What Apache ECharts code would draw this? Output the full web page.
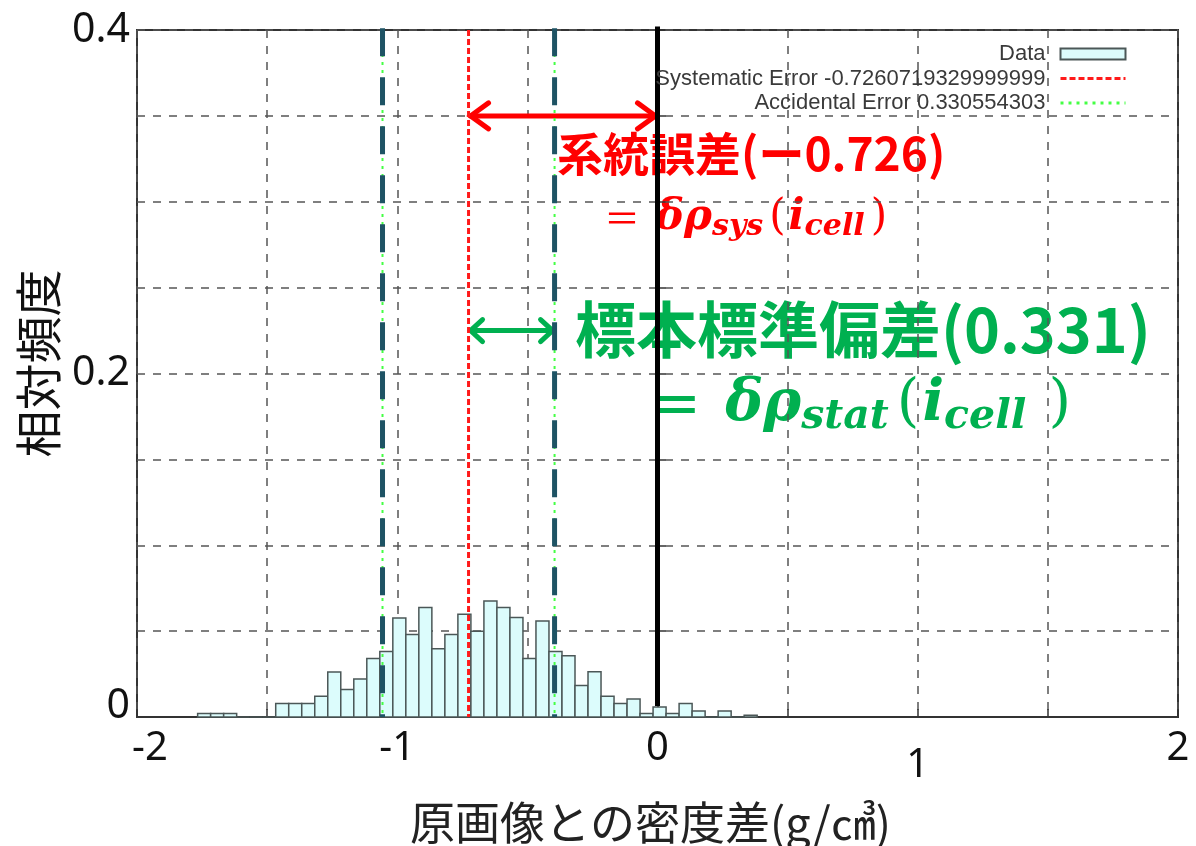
<!DOCTYPE html>
<html>
<head>
<meta charset="utf-8">
<script src="https://cdn.jsdelivr.net/npm/echarts@6/dist/echarts.min.js"></script>
<style>
  html, body { margin: 0; padding: 0; background: #fff; }
  #chart { width: 1196px; height: 846px; }
</style>
</head>
<body>
<div id="chart"></div>
<script>
// histogram: left edge of first bin and bin width
const binStart = -1.767;
const binWidth = 0.05;
// relative frequency per bin
const relFreq = [
  0.002, 0.002, 0.002, 0, 0, 0,
  0.0078, 0.0078, 0.0078, 0.0121, 0.0262, 0.016, 0.0221, 0.034, 0.0382, 0.0576,
  0.048, 0.0637, 0.0398, 0.048, 0.0598, 0.050, 0.0675, 0.0637, 0.0579, 0.034,
  0.0559, 0.0382, 0.0357, 0.0183, 0.0264, 0.0121, 0.0078, 0.0105, 0.002, 0.0058,
  0.002, 0.0078, 0.0035, 0, 0.0035, 0, 0.001
];

const sysError = -0.7260719329999999;
const accError = 0.330554303;
const legendNames = ['Data', 'Systematic Error -0.7260719329999999', 'Accidental Error 0.330554303'];

const xTicks = [-2, -1, 0, 1, 2];
const yTicks = [0, 0.2, 0.4];
const yTop = 0.4;
const zeroLineBottom = 0.0064;
// arrows: [from x, to x, at y]
const sysArrow = [sysError, 0, 0.35];
const statArrow = [sysError, sysError + accError, 0.225];

const chart = echarts.init(document.getElementById('chart'));

const histData = relFreq.map((v, i) => [binStart + i * binWidth, binStart + (i + 1) * binWidth, v]);

const vline = (x, y0, y1) => [[x, y1], [x, y0]];

function arrowItem(color, width, arm, spread) {
  return function (params, api) {
    const a = api.coord([api.value(0), api.value(2)]);
    const b = api.coord([api.value(1), api.value(2)]);
    const st = { stroke: color, lineWidth: width, lineCap: 'round', lineJoin: 'miter', fill: null };
    return {
      type: 'group',
      children: [
        { type: 'line', shape: { x1: a[0] + 2, y1: a[1], x2: b[0] - 2, y2: b[1] }, style: st },
        { type: 'polyline', shape: { points: [[a[0] + arm, a[1] - spread], [a[0] + 2, a[1]], [a[0] + arm, a[1] + spread]] }, style: st },
        { type: 'polyline', shape: { points: [[b[0] - arm, b[1] - spread], [b[0] - 2, b[1]], [b[0] - arm, b[1] + spread]] }, style: st }
      ]
    };
  };
}

const labelFont = '"Noto Sans", "Open Sans", sans-serif';
const cjk = '"Noto Sans CJK JP", sans-serif';
const serif = '"DejaVu Serif", serif';

const option = {
  animation: false,
  backgroundColor: '#fff',
  grid: {
    left: 137, right: 18, top: 30, bottom: 129,
    outerBoundsMode: 'none',
    show: true, borderColor: '#333', borderWidth: 2, backgroundColor: 'transparent'
  },
  legend: {
    data: [
      { name: legendNames[0], icon: 'rect' },
      { name: legendNames[1], itemStyle: { opacity: 0 }, lineStyle: { width: 3 } },
      { name: legendNames[2], itemStyle: { opacity: 0 }, lineStyle: { width: 3 } }
    ],
    orient: 'vertical',
    right: 64, top: 38,
    align: 'right',
    itemWidth: 65, itemHeight: 11, itemGap: 2.5,
    selectedMode: false,
    textStyle: { fontSize: 22, lineHeight: 21, color: '#3a3a3a', fontFamily: '"Liberation Sans", Arial, sans-serif', padding: [0, 10, 0, 0] }
  },
  xAxis: {
    type: 'value', min: -2, max: 2, interval: 0.5,
    name: '原画像との密度差(g/㎤)',
    nameLocation: 'middle', nameGap: 83,
    nameTextStyle: { fontSize: 45, color: '#222', fontFamily: cjk, padding: [0, 14, 0, 0] },
    axisLine: { show: true, onZero: false, lineStyle: { color: '#333', width: 2 } },
    axisTick: { show: true, inside: true, length: 8, lineStyle: { color: '#333', width: 1.5 } },
    axisLabel: {
      margin: 12, fontSize: 40, color: '#111', fontFamily: labelFont,
      formatter: v => {
        if (!xTicks.some(t => Math.abs(t - v) < 1e-9)) return '';
        if (Math.abs(v + 2) < 1e-9) return '{shift|-2}';
        if (Math.abs(v - 1) < 1e-9) return '{low|1}';
        return String(Math.round(v));
      },
      rich: {
        shift: { fontSize: 40, color: '#111', fontFamily: labelFont, padding: [0, 0, 0, 26] },
        low: { fontSize: 40, color: '#111', fontFamily: labelFont, padding: [17, 0, 0, 0] }
      }
    },
    splitLine: { show: true, lineStyle: { type: [8, 8], color: '#555', width: 1.5 } }
  },
  yAxis: {
    type: 'value', min: 0, max: yTop, interval: 0.05,
    name: '相対頻度',
    nameLocation: 'middle', nameRotate: 90, nameGap: 67,
    nameTextStyle: { fontSize: 47, color: '#111', fontFamily: cjk, padding: [0, 0, 0, 20] },
    axisLine: { show: true, lineStyle: { color: '#333', width: 2 } },
    axisTick: { show: true, inside: true, length: 8, lineStyle: { color: '#333', width: 1.5 } },
    axisLabel: {
      margin: 7, fontSize: 41, color: '#111', fontFamily: labelFont,
      formatter: v => {
        if (!yTicks.some(t => Math.abs(t - v) < 1e-9)) return '';
        if (Math.abs(v) < 1e-9) return '{up|0}';
        return (Math.round(v * 10) / 10).toString();
      },
      rich: {
        up: { fontSize: 41, color: '#111', fontFamily: labelFont, padding: [0, 0, 22, 0] }
      }
    },
    splitLine: { show: true, lineStyle: { type: [8, 8], color: '#555', width: 1.5 } }
  },
  series: [
    {
      name: legendNames[0],
      type: 'custom',
      silent: true,
      itemStyle: { color: '#dcfcfc', borderColor: '#4b5757', borderWidth: 1.5 },
      encode: { x: [0, 1], y: 2 },
      data: histData,
      renderItem: function (params, api) {
        const p0 = api.coord([api.value(0), api.value(2)]);
        const p1 = api.coord([api.value(1), 0]);
        return {
          type: 'rect',
          shape: { x: p0[0], y: p0[1], width: p1[0] - p0[0], height: p1[1] - p0[1] },
          style: { fill: '#dcfcfc', stroke: '#4b5757', lineWidth: 1.5 }
        };
      }
    },
    {
      name: legendNames[1], type: 'line', symbol: 'none', silent: true,
      itemStyle: { color: '#ff1a1a' },
      lineStyle: { color: '#ff1a1a', width: 3, type: [6, 3] },
      data: vline(sysError, 0, yTop)
    },
    {
      name: legendNames[2], type: 'line', symbol: 'none', silent: true,
      itemStyle: { color: '#44ff44' },
      lineStyle: { color: '#44ff44', width: 2, type: [3, 5] },
      data: vline(sysError - accError, 0, yTop)
    },
    {
      name: legendNames[2], type: 'line', symbol: 'none', silent: true,
      itemStyle: { color: '#44ff44' },
      lineStyle: { color: '#44ff44', width: 2, type: [3, 5] },
      data: vline(sysError + accError, 0, yTop)
    },
    {
      name: 'lo', type: 'line', symbol: 'none', silent: true, clip: false,
      lineStyle: { color: '#1e5364', width: 5, type: [28, 21] },
      data: vline(sysError - accError, 0, yTop + 0.001)
    },
    {
      name: 'hi', type: 'line', symbol: 'none', silent: true, clip: false,
      lineStyle: { color: '#1e5364', width: 5, type: [28, 21] },
      data: vline(sysError + accError, 0, yTop + 0.001)
    },
    {
      name: 'zero', type: 'line', symbol: 'none', silent: true, clip: false,
      lineStyle: { color: '#000', width: 5 },
      data: vline(0, zeroLineBottom, yTop + 0.002)
    },
    {
      name: 'sysArrow', type: 'custom', silent: true, clip: false,
      encode: { x: [0, 1], y: 2 },
      data: [sysArrow],
      renderItem: arrowItem('#ff0000', 5, 20, 13)
    },
    {
      name: 'statArrow', type: 'custom', silent: true, clip: false,
      encode: { x: [0, 1], y: 2 },
      data: [statArrow],
      renderItem: arrowItem('#00b050', 5, 14, 11)
    }
  ],
  graphic: [
    {
      type: 'text', left: 557, top: 131, silent: true,
      style: { text: '系統誤差(ー0.726)', font: 'bold 46px "Noto Sans CJK JP", sans-serif', fill: '#ff0000' }
    },
    {
      type: 'text', left: 604, top: 197, silent: true,
      style: {
        text: '{eq|＝ }{m|δρ}{s|sys}{p|(}{m|i}{s|cell}{p|)}',
        rich: {
          eq: { fontFamily: cjk, fontSize: 36, fill: '#ff0000', padding: [0, 8, 0, 0] },
          m: { fontFamily: serif, fontStyle: 'italic', fontWeight: 'bold', fontSize: 42, fill: '#ff0000' },
          p: { fontFamily: serif, fontSize: 42, fill: '#ff0000', padding: [0, 3, 0, 5] },
          s: { fontFamily: serif, fontStyle: 'italic', fontWeight: 'bold', fontSize: 30, fill: '#ff0000', verticalAlign: 'bottom', padding: [18, 1, 0, 0] }
        }
      }
    },
    {
      type: 'text', left: 575, top: 299, silent: true,
      style: { text: '標本標準偏差(0.331)', font: 'bold 61px "Noto Sans CJK JP", sans-serif', fill: '#00b050' }
    },
    {
      type: 'text', left: 652, top: 376, silent: true,
      style: {
        text: '{eq|＝ }{m|δρ}{s|stat}{p|(}{m|i}{s|cell }{p|)}',
        rich: {
          eq: { fontFamily: cjk, fontWeight: 'bold', fontSize: 50, fill: '#00b050', padding: [0, 12, 0, 0] },
          m: { fontFamily: serif, fontStyle: 'italic', fontWeight: 'bold', fontSize: 57, fill: '#00b050' },
          p: { fontFamily: serif, fontSize: 58, fill: '#00b050', padding: [0, 3, 0, 7] },
          s: { fontFamily: serif, fontStyle: 'italic', fontWeight: 'bold', fontSize: 41, fill: '#00b050', verticalAlign: 'bottom', padding: [24, 1, 0, 0] }
        }
      }
    }
  ]
};

chart.setOption(option);
</script>
</body>
</html>
